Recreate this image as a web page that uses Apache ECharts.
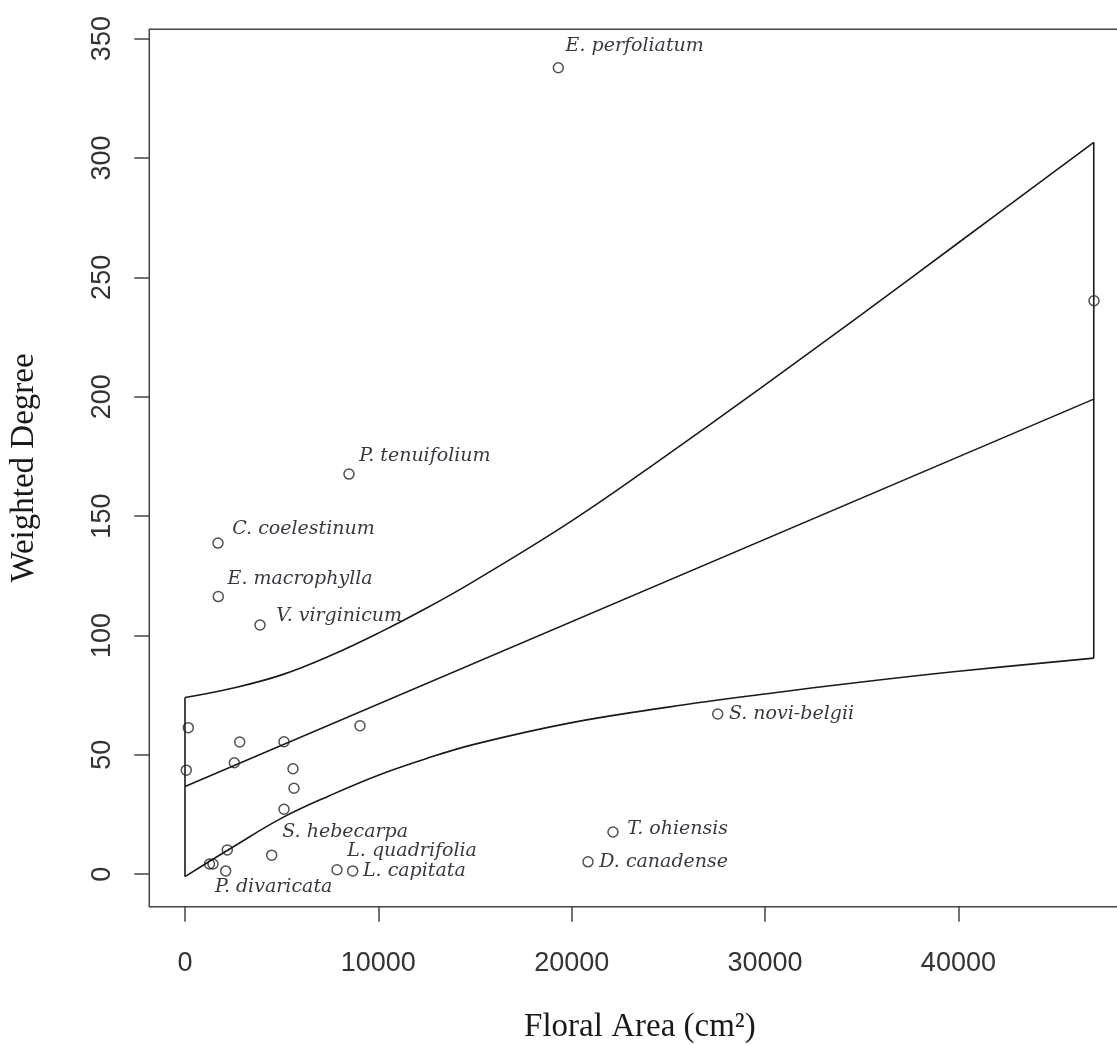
<!DOCTYPE html>
<html>
<head>
<meta charset="utf-8">
<title>Weighted Degree vs Floral Area</title>
<script src="https://cdn.jsdelivr.net/npm/echarts@6/dist/echarts.min.js"></script>
<style>
  html, body { margin: 0; padding: 0; background: #ffffff; }
  #chart { width: 1117px; height: 1045px; }
</style>
</head>
<body>
<div id="chart"></div>
<script>
// Plant species: floral area (cm²) and weighted degree in the visitation network
const plantNames = [
  'E. perfoliatum', '', 'P. tenuifolium', 'C. coelestinum', 'E. macrophylla',
  'V. virginicum', '', '', '', '', '', '', '', '', 'S. hebecarpa', '', '',
  '', '', 'P. divaricata', 'L. quadrifolia', 'L. capitata', 'T. ohiensis',
  'D. canadense', 'S. novi-belgii'
];
const floralArea = [
  19307, 47013, 8482, 1707, 1722,
  3879, 171, 9051, 67, 2829, 5120, 2550, 5586, 5637, 5120, 2188, 4484,
  1267, 1448, 2105, 7861, 8673, 22136,
  20843, 27551
];
const weightedDegree = [
  337.8, 240.2, 167.6, 138.7, 116.3,
  104.4, 61.4, 62.2, 43.6, 55.4, 55.5, 46.7, 44.2, 36.0, 27.2, 10.2, 8.0,
  4.3, 4.3, 1.4, 1.9, 1.4, 17.7,
  5.2, 67.1
];

// Fitted regression line
const fitArea = [0, 47000];
const fitDegree = [36.7, 199];

// Confidence band around the fit
const bandArea  = [0, 2500, 5000, 7500, 10000, 12500, 15000, 20000, 25000, 30000, 35000, 40000, 47000];
const bandUpper = [74, 78, 83.5, 91.5, 101, 111.5, 123, 148, 176, 205, 234.5, 264.5, 306.5];
const bandLower = [-1, 11.5, 23.5, 33, 41.5, 48.5, 54.5, 63.5, 70, 75.5, 80.5, 85, 90.5];

// Axis tick values
const xTicks = [0, 10000, 20000, 30000, 40000];
const yTicks = [0, 50, 100, 150, 200, 250, 300, 350];

// Label placement (offset of label's left/middle from the point centre, px)
const labelOffset = {
  'E. perfoliatum': [8, -21],
  'P. tenuifolium': [11, -17],
  'C. coelestinum': [15, -13],
  'E. macrophylla': [10, -17],
  'V. virginicum': [17, -8],
  'S. novi-belgii': [12, 1],
  'T. ohiensis': [15, -2],
  'D. canadense': [12, 1],
  'S. hebecarpa': [-1, 24],
  'L. quadrifolia': [11, -18],
  'L. capitata': [11, 1],
  'P. divaricata': [-10, 17]
};

const SYMBOL = 10;
const ink = '#1a1a1a';
const axisInk = '#444444';

const points = floralArea.map((x, i) => {
  const name = plantNames[i];
  const item = { value: [x, weightedDegree[i]], name: name };
  if (name) {
    const off = labelOffset[name] || [10, 0];
    item.label = {
      show: true,
      formatter: name,
      position: [SYMBOL / 2 + off[0], SYMBOL / 2 + off[1]],
      align: 'left',
      verticalAlign: 'middle',
      fontFamily: 'DejaVu Serif',
      fontStyle: 'italic',
      fontSize: 19,
      color: '#050510'
    };
  }
  return item;
});

const zip = (xs, ys) => xs.map((x, i) => [x, ys[i]]);
const last = bandArea.length - 1;

const lineCommon = {
  type: 'line',
  showSymbol: false,
  silent: true,
  animation: false,
  lineStyle: { color: ink, width: 1.6 },
  z: 2
};

const plainNumber = v => String(v);

const chart = echarts.init(document.getElementById('chart'), null, { renderer: 'canvas' });
chart.setOption({
  backgroundColor: '#ffffff',
  animation: false,
  grid: {
    left: 149.3,
    top: 29.3,
    width: 981.2,
    height: 877.4,
    outerBoundsMode: 'none',
    containLabel: false,
    show: true,
    borderColor: axisInk,
    borderWidth: 1.5,
    backgroundColor: 'transparent'
  },
  xAxis: {
    type: 'value',
    min: -1846,
    max: 48900,
    name: 'Floral Area (cm²)',
    nameLocation: 'middle',
    nameGap: 104,
    nameTextStyle: { fontFamily: 'Liberation Serif', fontSize: 33, color: '#1a1a1a' },
    axisLine: { show: false, onZero: false },
    splitLine: { show: false },
    axisTick: {
      show: true,
      inside: false,
      customValues: xTicks,
      length: 15,
      lineStyle: { color: axisInk, width: 1.5 }
    },
    axisLabel: {
      customValues: xTicks,
      formatter: plainNumber,
      margin: 43,
      fontFamily: 'Liberation Sans',
      fontSize: 27,
      color: '#333333'
    }
  },
  yAxis: {
    type: 'value',
    min: -13.6,
    max: 353.9,
    name: 'Weighted Degree',
    nameLocation: 'middle',
    nameGap: 108,
    nameTextStyle: { fontFamily: 'Liberation Serif', fontSize: 33, color: '#1a1a1a' },
    axisLine: { show: false, onZero: false },
    splitLine: { show: false },
    axisTick: {
      show: true,
      inside: false,
      customValues: yTicks,
      length: 15,
      lineStyle: { color: axisInk, width: 1.5 }
    },
    axisLabel: {
      customValues: yTicks,
      formatter: plainNumber,
      rotate: 90,
      margin: 33,
      fontFamily: 'Liberation Sans',
      fontSize: 27,
      color: '#333333'
    }
  },
  series: [
    Object.assign({}, lineCommon, {
      name: 'fit',
      data: zip(fitArea, fitDegree)
    }),
    Object.assign({}, lineCommon, {
      name: 'upper',
      smooth: 0.4,
      data: zip(bandArea, bandUpper)
    }),
    Object.assign({}, lineCommon, {
      name: 'lower',
      smooth: 0.4,
      data: zip(bandArea, bandLower)
    }),
    Object.assign({}, lineCommon, {
      name: 'band start',
      data: [[bandArea[0], bandLower[0]], [bandArea[0], bandUpper[0]]]
    }),
    Object.assign({}, lineCommon, {
      name: 'band end',
      data: [[bandArea[last], bandLower[last]], [bandArea[last], bandUpper[last]]]
    }),
    {
      name: 'plants',
      type: 'scatter',
      symbol: 'circle',
      symbolSize: SYMBOL,
      silent: true,
      animation: false,
      z: 3,
      itemStyle: { color: 'rgba(255,255,255,0)', borderColor: '#262626', borderWidth: 1.5 },
      data: points
    }
  ]
});
</script>
</body>
</html>
